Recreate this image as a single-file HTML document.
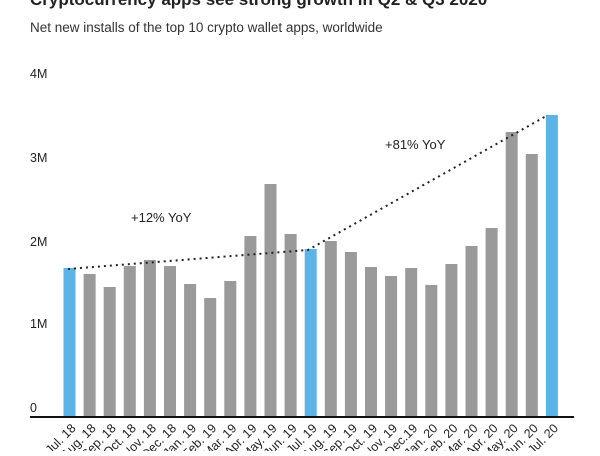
<!DOCTYPE html>
<html><head><meta charset="utf-8"><style>
body{margin:0;background:#fff;width:600px;height:451px;overflow:hidden;font-family:"Liberation Sans",sans-serif;}
</style></head><body>
<svg width="600" height="451" xmlns="http://www.w3.org/2000/svg" font-family="Liberation Sans, sans-serif">
<text x="30" y="5" font-size="17" font-weight="bold" fill="#222">Cryptocurrency apps see strong growth in Q2 &amp; Q3 2020</text>
<text x="30" y="32" font-size="13.5" fill="#333">Net new installs of the top 10 crypto wallet apps, worldwide</text>
<g font-size="12.5" fill="#222">
<text x="30" y="78">4M</text><text x="30" y="162">3M</text><text x="30" y="246">2M</text><text x="30" y="328">1M</text><text x="30" y="412">0</text>
</g>
<g id="bars"></g>
<line x1="30" y1="417" x2="574" y2="417" stroke="#111" stroke-width="2"/>
<polyline points="68,269 308,250 548,115" fill="none" stroke="#222" stroke-width="2" stroke-dasharray="2,4"/>
<text x="131" y="222" font-size="13" fill="#222">+12% YoY</text>
<text x="385" y="149" font-size="13" fill="#222">+81% YoY</text>
<g id="lbl" font-size="12.5" fill="#222"></g>
<script>
var tops=[268,274,287,266,260,266,284,298,281,236,184,234,249,241,252,267,276,268,285,264,246,228,132,154,115];
var names=["Jul. 18","Aug. 18","Sep. 18","Oct. 18","Nov. 18","Dec. 18","Jan. 19","Feb. 19","Mar. 19","Apr. 19","May. 19","Jun. 19","Jul. 19","Aug. 19","Sep. 19","Oct. 19","Nov. 19","Dec.19","Jan. 20","Feb. 20","Mar. 20","Apr. 20","May. 20","Jun. 20","Jul. 20"];
var ns="http://www.w3.org/2000/svg",b=document.getElementById("bars"),l=document.getElementById("lbl");
for(var i=0;i<25;i++){var x=63.5+i*20.1;var r=document.createElementNS(ns,"rect");
r.setAttribute("x",x);r.setAttribute("y",tops[i]);r.setAttribute("width",12);r.setAttribute("height",417-tops[i]);
r.setAttribute("fill",(i==0||i==12||i==24)?"#5bb4e5":"#9a9a9a");b.appendChild(r);
var t=document.createElementNS(ns,"text");var cx=x+13,cy=429;t.setAttribute("x",cx);t.setAttribute("y",cy);
t.setAttribute("text-anchor","end");t.setAttribute("transform","rotate(-45 "+cx+" "+cy+")");t.textContent=names[i];l.appendChild(t);}
</script>
</svg>
</body></html>
